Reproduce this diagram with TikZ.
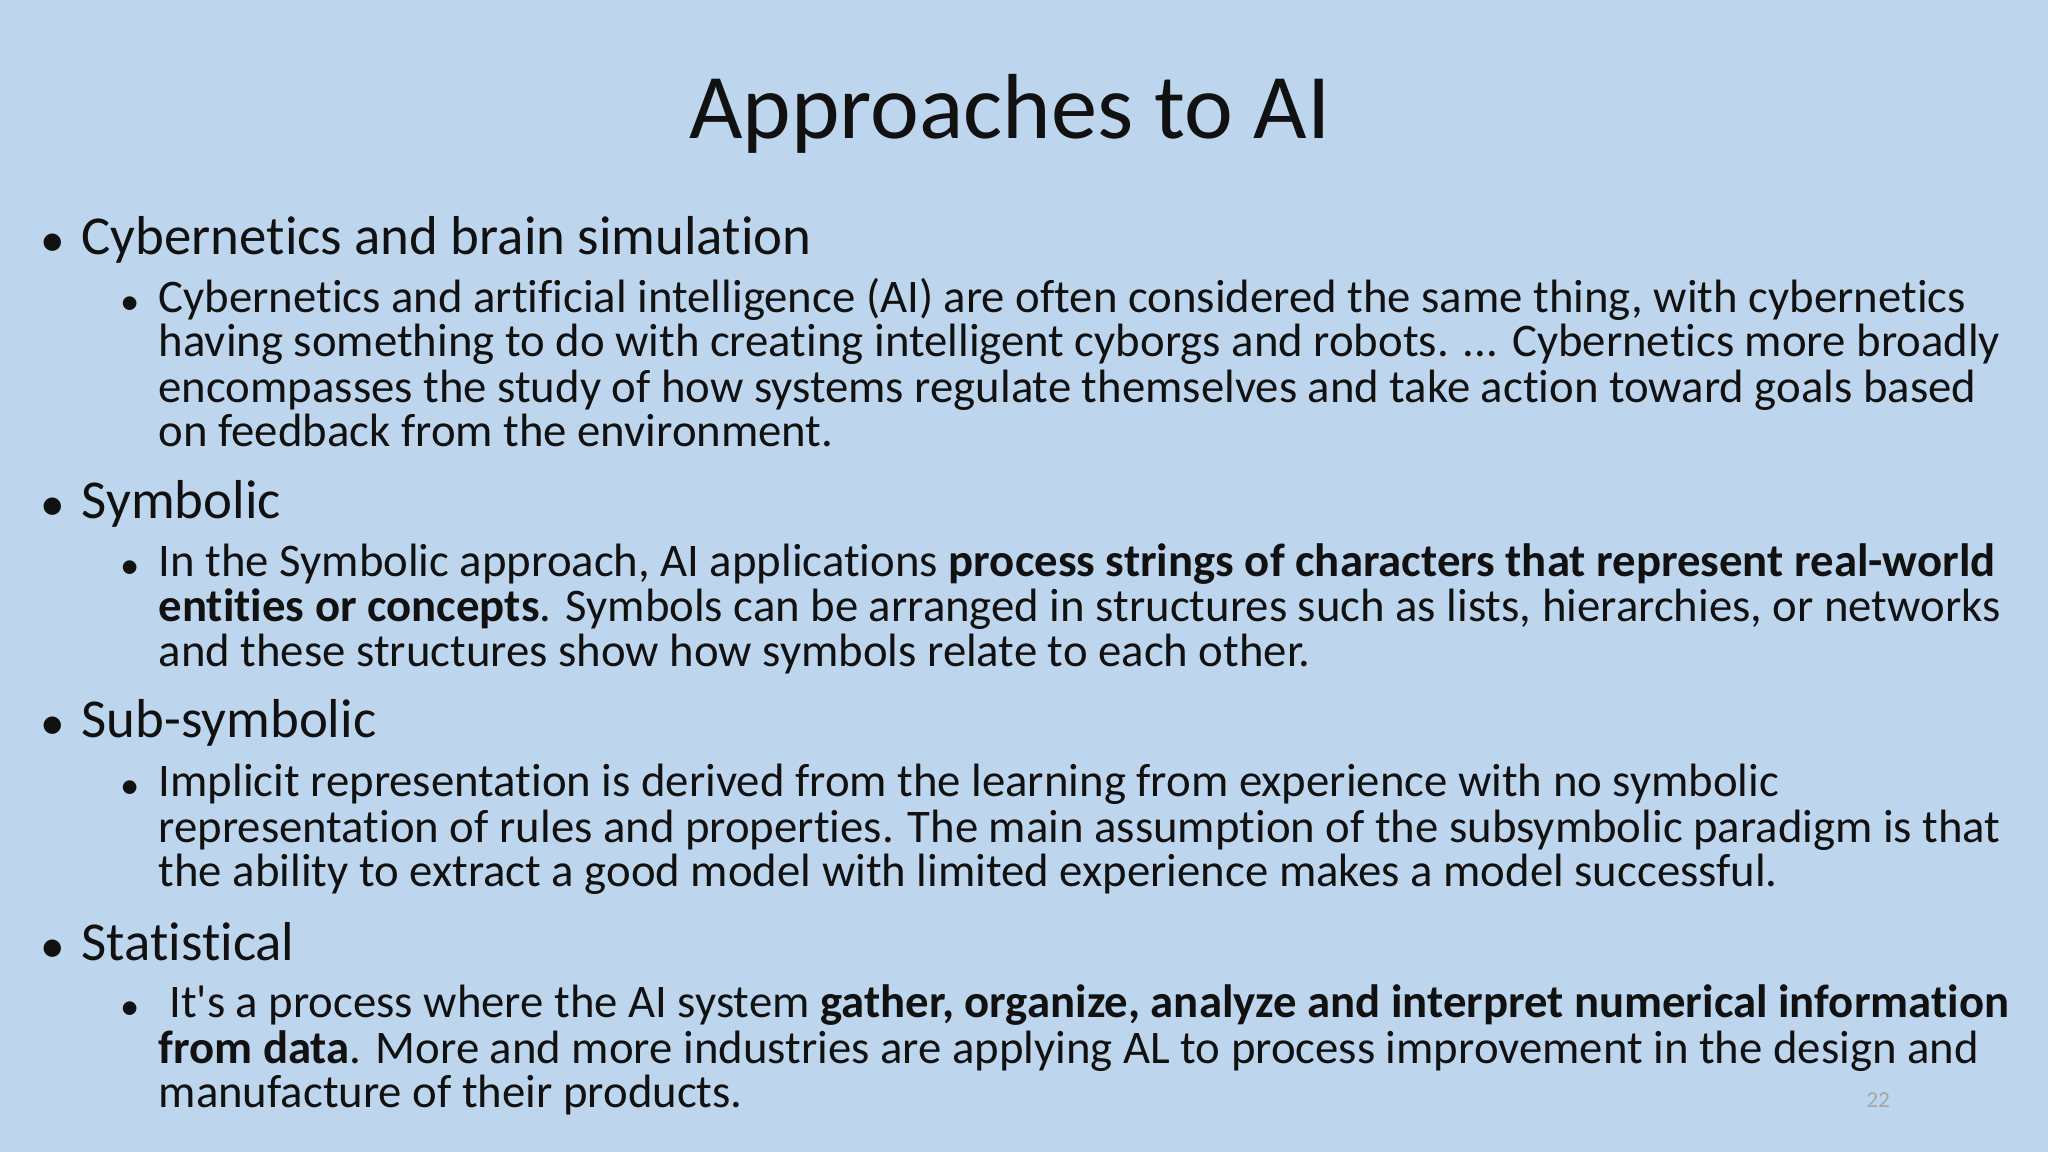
\documentclass[tikz,border=0pt]{standalone}
\usepackage{fontspec}
\setmainfont{Carlito}[Ligatures=NoCommon]
\definecolor{bg}{HTML}{BDD6EE}
\definecolor{tx}{HTML}{111111}
\newcommand{\ya}[1]{-#1*0.01306}
\begin{document}
\begin{tikzpicture}[x=1cm,y=1cm,
  ln/.style={anchor=base west,inner sep=0pt,text=tx,font=\fontsize{13.3}{14}\selectfont},
  lone/.style={anchor=base west,inner sep=0pt,text=tx,font=\fontsize{15.6}{17}\selectfont},
  bul/.style={anchor=base west,inner sep=0pt,text=tx,font=\fontsize{11}{12}\selectfont}]
\fill[bg] (0,0) rectangle (20.48,-11.52);
\useasboundingbox (0,0) rectangle (20.48,-11.52);
\node[anchor=base,inner sep=0pt,text=tx,font=\fontsize{26.3}{30}\selectfont] (title) at (10.1,{\ya{106}}) {Approaches to AI};
% level 1
\foreach \n/\y/\t in {a/195/Cybernetics and brain simulation, b/397/Symbolic, c/565/Sub-symbolic, d/735/Statistical}{
  \node[bul,font=\fontsize{14}{15}\selectfont] (b\n) at (0.40,{\ya{\y}-0.02}) {•};
  \node[lone] (h\n) at (0.81,{\ya{\y}}) {\t};
}
% level 2 bullets
\foreach \n/\y in {a/239,b/441,c/610,d/779}{
  \node[bul] (s\n) at (1.20,{\ya{\y}-0.02}) {•};
}
\node[ln] (a1) at (1.58,{\ya{239}}) {Cybernetics and artificial intelligence (AI) are often considered the same thing, with cybernetics};
\node[ln] (a2) at (1.58,{\ya{273}}) {having something to do with creating intelligent cyborgs and robots. ... Cybernetics more broadly};
\node[ln] (a3) at (1.58,{\ya{308}}) {encompasses the study of how systems regulate themselves and take action toward goals based};
\node[ln] (a4) at (1.58,{\ya{342}}) {on feedback from the environment.};
\node[ln] (b1) at (1.58,{\ya{441}}) {In the Symbolic approach, AI applications \textbf{process strings of characters that represent real-world}};
\node[ln] (b2) at (1.58,{\ya{476}}) {\textbf{entities or concepts}. Symbols can be arranged in structures such as lists, hierarchies, or networks};
\node[ln] (b3) at (1.58,{\ya{510}}) {and these structures show how symbols relate to each other.};
\node[ln] (c1) at (1.58,{\ya{610}}) {Implicit representation is derived from the learning from experience with no symbolic};
\node[ln] (c2) at (1.58,{\ya{645}}) {representation of rules and properties. The main assumption of the subsymbolic paradigm is that};
\node[ln] (c3) at (1.58,{\ya{679}}) {the ability to extract a good model with limited experience makes a model successful.};
\node[ln] (d1) at (1.58,{\ya{779}}) {\ It\textquotesingle s a process where the AI system \textbf{gather, organize, analyze and interpret numerical information}};
\node[ln] (d2) at (1.58,{\ya{814}}) {\textbf{from data}. More and more industries are applying AL to process improvement in the design and};
\node[ln] (d3) at (1.58,{\ya{848}}) {manufacture of their products.};
\node[anchor=base,inner sep=0pt,text=gray!70,font=\fontsize{6.5}{8}\selectfont] (pg) at ({1438*0.01306},{\ya{848}}) {22};
\end{tikzpicture}
\end{document}
